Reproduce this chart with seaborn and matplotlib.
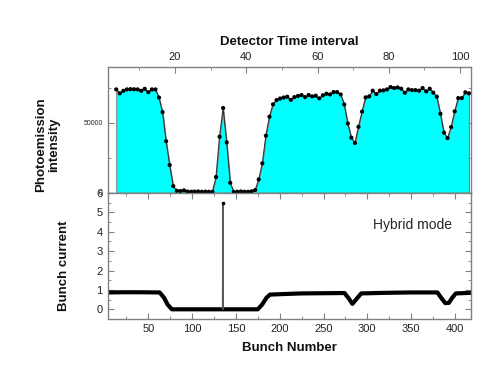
import numpy as np
import pandas as pd
import matplotlib
matplotlib.use("Agg")
import matplotlib.pyplot as plt
import seaborn as sns
from matplotlib.ticker import MultipleLocator

# photoemission intensity, one value per detector time interval (starting at ~3.5)
intensity = [73800, 71000, 72800, 73800, 74000, 73900, 73800, 72800, 74200, 71800,
             73800, 73800, 68000, 57600, 36800, 19800, 4800, 1400, 1200, 1700,
             800, 700, 800, 900, 700, 800, 700, 700, 11200, 40000,
             60500, 36000, 7100, 600, 700, 900, 700, 700, 1000, 1900,
             9500, 21000, 40700, 54300, 63100, 66200, 67300, 68000, 68600, 66300,
             68300, 69100, 69800, 68300, 69800, 68800, 69300, 67400, 69600, 70700,
             70200, 71900, 71900, 70200, 63100, 49500, 39300, 35500, 47100, 57900,
             68100, 68800, 72900, 70500, 72900, 73100, 73800, 75500, 74800, 75200,
             74300, 71400, 73800, 73300, 73300, 72900, 74800, 72400, 74300, 71500,
             68600, 56400, 42900, 39000, 46900, 58100, 67600, 67600, 71700, 71000]
interval = np.arange(len(intensity)) + 3.5

# bunch current trace (breakpoints), spike drawn separately
bunch = [4, 20, 40, 63, 68, 72, 77, 100, 134, 150, 175, 180, 185, 189, 200, 225, 250,
         274, 279, 283, 288, 293, 320, 350, 380, 385, 389, 393, 397, 401, 418]
current = [0.87, 0.88, 0.88, 0.87, 0.6, 0.25, 0.0, 0.0, 0.0, 0.0, 0.0, 0.25, 0.6, 0.76,
           0.78, 0.82, 0.83, 0.84, 0.55, 0.28, 0.55, 0.82, 0.85, 0.87, 0.87, 0.55, 0.32,
           0.33, 0.6, 0.82, 0.85]
spike_bunch = [134.6, 135.2, 135.8]
spike_current = [0.0, 5.5, 0.0]

top_df = pd.DataFrame({"interval": interval, "intensity": intensity})
bot_df = pd.DataFrame({"bunch": bunch, "current": current})

sns.set_style("ticks")
plt.rcParams["font.family"] = ["Liberation Sans", "DejaVu Sans"]
grey = "#808080"
lab = dict(fontsize=9.5, fontweight="bold", color="#111111")

fig = plt.figure(figsize=(5, 3.87), dpi=100)
ax1 = fig.add_axes([0.2154, 0.502, 0.726, 0.3256])
ax2 = fig.add_axes([0.2154, 0.1757, 0.726, 0.3256])

# top panel
ax1.fill_between(top_df["interval"], top_df["intensity"], color="#00ffff", edgecolor=grey, lw=0.8)
sns.lineplot(data=top_df, x="interval", y="intensity", ax=ax1, color="#333333", lw=0.8)
sns.scatterplot(data=top_df, x="interval", y="intensity", ax=ax1, color="black", s=9,
                edgecolor="none", zorder=3)
ax1.set_xlim(1.1, 103)
ax1.set_ylim(0, 90000)
ax1.xaxis.tick_top()
ax1.xaxis.set_label_position("top")
ax1.xaxis.set_major_locator(MultipleLocator(20))
ax1.xaxis.set_minor_locator(MultipleLocator(10))
ax1.yaxis.set_major_locator(MultipleLocator(50000))
ax1.yaxis.set_minor_locator(MultipleLocator(25000))
ax1.set_xlabel("Detector Time interval", labelpad=5, **lab)
ax1.set_ylabel("Photoemission\nintensity", **lab)
ax1.yaxis.set_label_coords(-0.13, 0.38)
ax1.tick_params(axis="x", which="both", direction="in", top=True, bottom=False,
                labelsize=8, colors="#222222", color=grey)
ax1.tick_params(axis="y", which="both", direction="in", left=True, right=True,
                labelsize=5, color=grey)
ax1.tick_params(which="major", length=4)
ax1.tick_params(which="minor", length=2)

sec = ax1.secondary_xaxis("bottom", functions=(lambda i: 3.7 + (i - 1.1) * 4.066,
                                                 lambda b: 1.1 + (b - 3.7) / 4.066))
sec.xaxis.set_major_locator(MultipleLocator(25))
sec.tick_params(direction="in", length=3, labelbottom=False, color=grey)
sec.spines["bottom"].set_color(grey)

# bottom panel
sns.lineplot(data=bot_df, x="bunch", y="current", ax=ax2, color="black", lw=3)
ax2.plot(spike_bunch, spike_current, color="#555555", lw=0.8)
ax2.plot(spike_bunch[1], spike_current[1], "s", color="black", ms=2)
ax2.set_xlim(3.7, 418)
ax2.set_ylim(-0.5, 6)
ax2.xaxis.set_major_locator(MultipleLocator(50))
ax2.xaxis.set_minor_locator(MultipleLocator(25))
ax2.yaxis.set_major_locator(MultipleLocator(1))
ax2.yaxis.set_minor_locator(MultipleLocator(0.5))
ax2.set_xlabel("Bunch Number", labelpad=6, **lab)
ax2.set_ylabel("Bunch current", **lab)
ax2.yaxis.set_label_coords(-0.105, 0.42)
ax2.tick_params(which="both", direction="in", top=True, right=True, color=grey)
ax2.tick_params(which="major", length=4, labelsize=8, colors="#222222")
ax2.tick_params(which="major", color=grey)
ax2.tick_params(which="minor", length=2)
ax2.text(306, 4.35, "Hybrid mode", fontsize=10, va="center")

for ax in (ax1, ax2):
    for s in ax.spines.values():
        s.set_visible(True)
        s.set_color(grey)
        s.set_linewidth(1)

fig.savefig("out.png", dpi=100)
